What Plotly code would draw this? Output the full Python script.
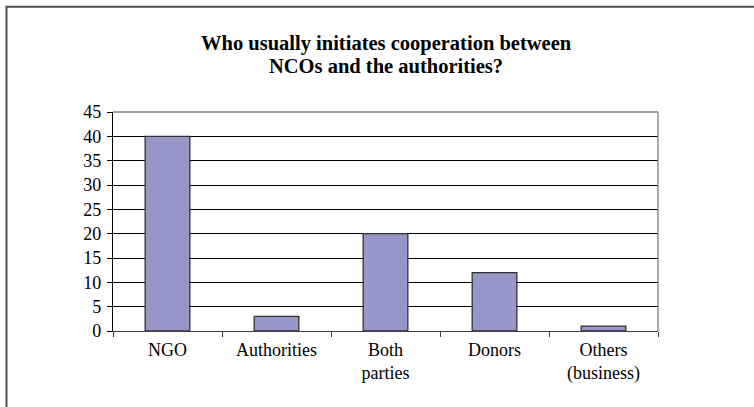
import plotly.graph_objects as go

categories = ["NGO", "Authorities", "Both<br>parties", "Donors", "Others<br>(business)"]
values = [40, 3, 20, 12, 1]
y_ticks = [0, 5, 10, 15, 20, 25, 30, 35, 40, 45]
title_lines = ["Who usually initiates cooperation between", "NCOs and the authorities?"]

W, H = 754, 407
L, R, T, B = 113, 96, 112, 76
pw, ph = W - L - R, H - T - B

def px_x(x):
    return (x - L) / pw

def px_y(y):
    return (H - B - y) / ph

serif = "Liberation Serif, Times New Roman, serif"

fig = go.Figure(go.Bar(
    x=categories, y=values,
    marker=dict(color="#9696C8", line=dict(color="#303030", width=1.3)),
    width=0.41,
))

fig.update_layout(
    width=W, height=H,
    margin=dict(l=L, r=R, t=T, b=B, pad=0),
    paper_bgcolor="white", plot_bgcolor="white",
    showlegend=False,
    font=dict(family=serif, color="black"),
    xaxis=dict(
        type="category",
        showgrid=False,
        showline=True, linecolor="#404040", linewidth=1.3,
        ticks="outside", tickson="boundaries", ticklen=5, tickcolor="#404040", tickwidth=1.3,
        tickfont=dict(family=serif, size=18, color="black"),
        ticklabelstandoff=2,
        fixedrange=True,
    ),
    yaxis=dict(
        range=[0, 45],
        tickvals=y_ticks,
        showgrid=True, gridcolor="black", gridwidth=1,
        zeroline=False,
        showline=True, linecolor="black", linewidth=1.3,
        ticks="outside", ticklen=5, tickcolor="black", tickwidth=1.2,
        tickfont=dict(family=serif, size=18, color="black"),
        ticklabelstandoff=2,
        fixedrange=True,
    ),
    shapes=[
        # outer frame (left and top visible)
        dict(type="rect", xref="paper", yref="paper",
             x0=px_x(6.5), x1=px_x(770), y0=px_y(420), y1=px_y(6.7),
             line=dict(color="#505050", width=2), fillcolor="rgba(0,0,0,0)", layer="above"),
        # plot area top and right border (gray)
        dict(type="line", xref="paper", yref="paper", x0=0, x1=1, y0=1, y1=1,
             line=dict(color="#808080", width=1.3), layer="above"),
        dict(type="line", xref="paper", yref="paper", x0=1, x1=1, y0=0, y1=1,
             line=dict(color="#808080", width=1.3), layer="above"),
    ],
    annotations=[
        dict(text="<b>%s</b>" % title_lines[0], xref="paper", yref="paper",
             x=px_x(386), y=px_y(43.5), xanchor="center", yanchor="middle",
             showarrow=False, font=dict(family=serif, size=20.5, color="black")),
        dict(text="<b>%s</b>" % title_lines[1], xref="paper", yref="paper",
             x=px_x(386), y=px_y(66), xanchor="center", yanchor="middle",
             showarrow=False, font=dict(family=serif, size=20.5, color="black")),
    ],
)

fig.write_html(
    "out.html",
    config={"displayModeBar": False},
    post_script="document.body.style.margin='0';document.body.style.padding='0';document.body.style.overflow='hidden';",
)
